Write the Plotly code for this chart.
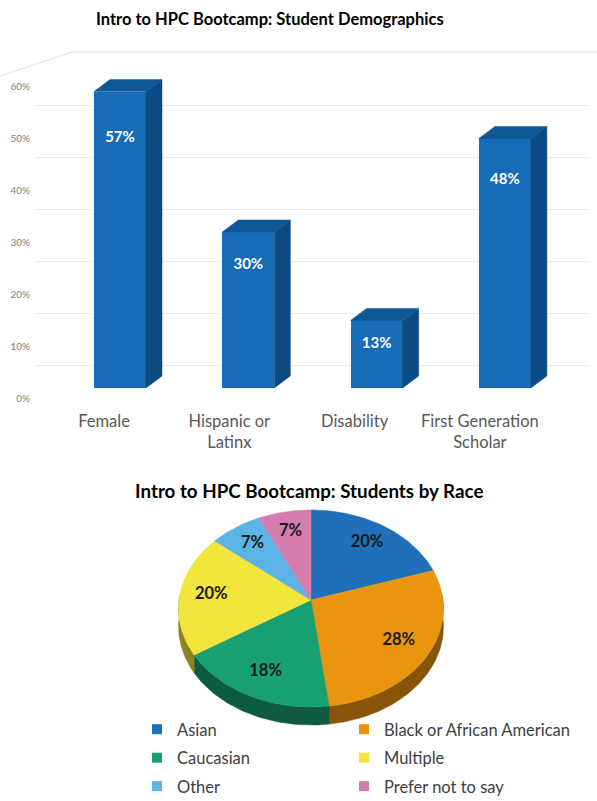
import numpy as np
import plotly.graph_objects as go

W, H = 597, 801
FONT = "Lato"

# ---- Student demographics (bar chart) ----
demo_categories = ["Female", "Hispanic or<br>Latinx", "Disability", "First Generation<br>Scholar"]
demo_values = [57, 30, 13, 48]
pct_ticks = [0, 10, 20, 30, 40, 50, 60]
pct_tick_labels = ["0%", "10%", "20%", "30%", "40%", "50%", "60%"]

# ---- Students by race (pie chart) ----
race_labels = ["Asian", "Black or African American", "Caucasian", "Multiple", "Other", "Prefer not to say"]
race_values = [20, 28, 18, 20, 7, 7]
race_colors = ["#1f70b8", "#e8940e", "#18a072", "#f2e53c", "#5cb4e6", "#d47cae"]


def fx(p):
    return p / W


def fy(p):
    return 1 - p / H


def darker(hex_color, f):
    h = hex_color.lstrip("#")
    r, g, b = (int(h[i:i + 2], 16) for i in (0, 2, 4))
    return "#%02x%02x%02x" % (int(r * f), int(g * f), int(b * f))


fig = go.Figure()

# bar plot geometry (pixels)
bx0, bx1 = 35, 590          # x domain
by_bot, by_top = 388, 70    # y domain
first_center, step_px = 120, 128.3
px_per_pct = 5.2
x_range = [(bx0 - first_center) / step_px, (bx1 - first_center) / step_px]
y_range = [0, (by_bot - by_top) / px_per_pct]
# category labels sit on the floor of the box, drawn slightly narrower
lab_first, lab_step = 104, 125.3
x2_range = [(bx0 - lab_first) / lab_step, (bx1 - lab_first) / lab_step]

bar_w = 52 / step_px
depth_x = 16 / step_px
depth_y = 12 / px_per_pct
front_col, side_col, top_col = "#176cb8", "#0b4a82", "#0e5795"

xs = list(range(len(demo_values)))
fig.add_trace(go.Bar(
    x=xs, y=demo_values, width=bar_w, marker=dict(color=front_col, line=dict(width=0)),
    showlegend=False, hoverinfo="skip", xaxis="x", yaxis="y"))

# extruded side and top faces of each bar
for xi, v in zip(xs, demo_values):
    xl, xr = xi - bar_w / 2, xi + bar_w / 2
    side_x = [xr, xr, xr + depth_x, xr + depth_x, xr]
    side_y = [0, v, v + depth_y, depth_y, 0]
    top_x = [xl, xr, xr + depth_x, xl + depth_x, xl]
    top_y = [v, v, v + depth_y, v + depth_y, v]
    for px_, py_, c in ((side_x, side_y, side_col), (top_x, top_y, top_col)):
        fig.add_trace(go.Scatter(
            x=px_, y=py_, fill="toself", fillcolor=c, mode="lines",
            line=dict(color=c, width=0.5), showlegend=False, hoverinfo="skip",
            xaxis="x", yaxis="y"))

# value labels inside the bars
fig.add_trace(go.Scatter(
    x=xs, y=[0.9 * v - 3.3 for v in demo_values], mode="text",
    text=[f"{v}%" for v in demo_values],
    textfont=dict(family=FONT, size=15, color="white", weight="bold"),
    showlegend=False, hoverinfo="skip", xaxis="x", yaxis="y"))

# back-wall grid (overlaid y axis) and category labels (overlaid x axis)
fig.add_trace(go.Scatter(x=[None], y=[None], showlegend=False, hoverinfo="skip",
                         xaxis="x", yaxis="y2"))
fig.add_trace(go.Scatter(x=[None], y=[None], showlegend=False, hoverinfo="skip",
                         xaxis="x2", yaxis="y"))

# ---- pie ----
cx, cy = 311, 600
rx, ry = 132, 97.8
persp = 0.0863
thick = 18
pie_top_px, pie_bot_px = 470, 745


def proj(theta, r=1.0):
    u = r * np.sin(theta)
    v = r * np.cos(theta)
    s = 1 / (1 + persp * v)
    return cx + rx * u * s, cy - ry * v * s


total = sum(race_values)
bounds = np.concatenate([[0], np.cumsum(race_values)]) / total * 2 * np.pi

# rim (visible front half only)
for a, b, col in zip(bounds[:-1], bounds[1:], race_colors):
    lo, hi = max(a, np.pi / 2 - 0.05), min(b, 3 * np.pi / 2 + 0.05)
    if hi <= lo:
        continue
    t = np.linspace(lo, hi, 60)
    ex, ey = proj(t)
    rim_x = np.concatenate([ex, ex[::-1], ex[:1]])
    rim_y = np.concatenate([ey, ey[::-1] + thick, ey[:1]])
    c = darker(col, 0.58)
    fig.add_trace(go.Scatter(x=rim_x, y=rim_y, fill="toself", fillcolor=c, mode="lines",
                             line=dict(color=c, width=0.5), showlegend=False,
                             hoverinfo="skip", xaxis="x3", yaxis="y3"))

# top faces
for a, b, col in zip(bounds[:-1], bounds[1:], race_colors):
    t = np.linspace(a, b, 80)
    ex, ey = proj(t)
    sx = np.concatenate([[cx], ex, [cx]])
    sy = np.concatenate([[cy], ey, [cy]])
    fig.add_trace(go.Scatter(x=sx, y=sy, fill="toself", fillcolor=col, mode="lines",
                             line=dict(color=col, width=0.5), showlegend=False,
                             hoverinfo="skip", xaxis="x3", yaxis="y3"))

mids = (bounds[:-1] + bounds[1:]) / 2
lx, ly = proj(mids, 0.76)
fig.add_trace(go.Scatter(x=lx, y=ly, mode="text", text=[f"{v}%" for v in race_values],
                         textfont=dict(family=FONT, size=16.5, color="#1a1a1a", weight="bold"),
                         showlegend=False, hoverinfo="skip", xaxis="x3", yaxis="y3"))

# legend entries: left column and right column
legend_cols = ["legend", "legend2", "legend", "legend2", "legend", "legend2"]
for name, col, lg in zip(race_labels, race_colors, legend_cols):
    fig.add_trace(go.Scatter(x=[None], y=[None], mode="markers", name=name,
                             marker=dict(symbol="square", size=10, color=col),
                             legend=lg, legendgroup=name, xaxis="x3", yaxis="y3"))

legend_common = dict(orientation="v", xanchor="left", yanchor="top", y=fy(712),
                     tracegroupgap=4, bgcolor="rgba(0,0,0,0)",
                     font=dict(family=FONT, size=16.5, color="#404040"))

# faint edges of the chart's 3-D box (top of back wall, left wall)
wall = dict(type="line", xref="paper", yref="paper", layer="below",
            line=dict(color="#e8e8e8", width=1.5))

fig.update_layout(
    width=W, height=H,
    margin=dict(l=0, r=0, t=0, b=0, autoexpand=False),
    paper_bgcolor="white", plot_bgcolor="rgba(0,0,0,0)",
    font=dict(family=FONT),
    bargap=0,
    xaxis=dict(domain=[fx(bx0), fx(bx1)], range=x_range, showticklabels=False,
               showgrid=False, zeroline=False, showline=False, ticks="", fixedrange=True),
    xaxis2=dict(overlaying="x", anchor="y", side="bottom", range=x2_range, tickvals=xs,
                ticktext=demo_categories, showgrid=False, zeroline=False, showline=False,
                ticks="", tickfont=dict(family=FONT, size=16.5, color="#595959"),
                ticklabelstandoff=21, fixedrange=True),
    yaxis=dict(domain=[fy(by_bot), fy(by_top)], range=y_range, tickvals=pct_ticks,
               ticktext=pct_tick_labels, showgrid=False, zeroline=False, showline=False,
               ticks="", tickfont=dict(family=FONT, size=10, color="#808080"),
               ticklabelshift=10, ticklabelstandoff=4, fixedrange=True),
    yaxis2=dict(overlaying="y", range=[(417 - by_bot) / px_per_pct, (417 - by_top) / px_per_pct],
                tickvals=pct_ticks[1:], showticklabels=False, showgrid=True,
                gridcolor="#ebebeb", gridwidth=1, zeroline=False, showline=False, ticks=""),
    xaxis3=dict(domain=[0, 1], range=[0, W], visible=False, fixedrange=True),
    yaxis3=dict(domain=[fy(pie_bot_px), fy(pie_top_px)], range=[pie_bot_px, pie_top_px],
                visible=False, fixedrange=True, anchor="x3"),
    legend=dict(legend_common, x=fx(137)),
    legend2=dict(legend_common, x=fx(344)),
    shapes=[
        dict(wall, x0=fx(72), x1=1, y0=fy(52), y1=fy(52)),
        dict(wall, x0=0, x1=fx(72), y0=fy(76), y1=fy(52)),
    ],
    annotations=[
        dict(text="<b>Intro to HPC Bootcamp: Student Demographics</b>", x=fx(270), y=fy(19),
             xref="paper", yref="paper", showarrow=False, xanchor="center", yanchor="middle",
             font=dict(family=FONT, size=16.5, color="#000000")),
        dict(text="<b>Intro to HPC Bootcamp: Students by Race</b>", x=fx(309), y=fy(490),
             xref="paper", yref="paper", showarrow=False, xanchor="center", yanchor="middle",
             font=dict(family=FONT, size=18.8, color="#000000")),
    ],
)

fig.write_html("out.html")
